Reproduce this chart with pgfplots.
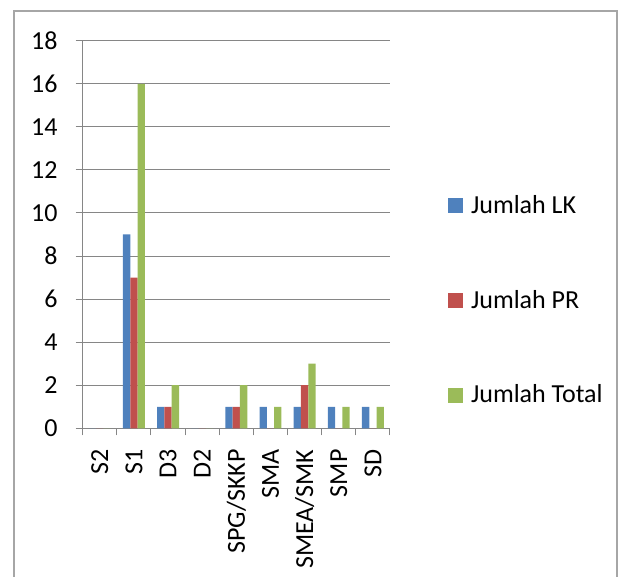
\documentclass[border=0pt]{standalone}
\usepackage{pgfplots}
\pgfplotsset{compat=1.18}
\usepackage{fontspec}
\setmainfont{Carlito}
\definecolor{cLK}{HTML}{4F81BD}
\definecolor{cPR}{HTML}{C0504D}
\definecolor{cTot}{HTML}{9BBB59}
\definecolor{cgrid}{HTML}{868686}
\definecolor{cframe}{HTML}{A6A6A6}
\begin{document}
\begin{tikzpicture}
\useasboundingbox (0pt,0pt) rectangle (618pt,577pt);
\draw[cframe, line width=1.2pt] (14pt,-2pt) -- (14pt,566pt) -- (617pt,566pt) -- (617pt,-2pt);
\begin{axis}[
  at={(82.7pt,148.7pt)}, anchor=south west,
  scale only axis, width=307.3pt, height=387.6pt,
  font=\fontsize{26}{30}\selectfont,
  /pgf/number format/assume math mode=true,
  ybar=0pt, bar width=7.3pt,
  xmin=-0.5, xmax=8.5, ymin=0, ymax=18,
  ytick={0,2,...,18},
  xtick={-0.5,0.5,...,8.5},
  x tick label as interval,
  xticklabels={S2,S1,D3,D2,SPG/SKKP,SMA,SMEA/SMK,SMP,SD},
  x tick label style={rotate=90, anchor=east, inner sep=0pt, xshift=-14pt},
  y tick label style={anchor=east, inner sep=0pt, xshift=-18pt},
  tick align=outside, major tick length=7pt,
  tick style={draw=cgrid, line width=1pt},
  axis x line*=bottom, axis y line*=left,
  axis line style={cgrid, line width=1pt, -},
  ymajorgrids, xmajorgrids=false, grid style={cgrid, line width=1pt},
  legend style={at={(1.189,0.606)}, anchor=north west, draw=none, fill=none,
    inner sep=0pt, outer sep=0pt, row sep=71pt, column sep=6pt,
    cells={inner sep=0pt, anchor=base west}},
  legend image code/.code={\fill[#1, draw=none] (0pt,0pt) rectangle (15pt,15pt);},
]
\addplot[fill=cLK, draw=none] coordinates {(0,0) (1,9) (2,1) (3,0) (4,1) (5,1) (6,1) (7,1) (8,1)};
\addplot[fill=cPR, draw=none] coordinates {(0,0) (1,7) (2,1) (3,0) (4,1) (5,0) (6,2) (7,0) (8,0)};
\addplot[fill=cTot, draw=none] coordinates {(0,0) (1,16) (2,2) (3,0) (4,2) (5,1) (6,3) (7,1) (8,1)};
\legend{Jumlah LK, Jumlah PR, Jumlah Total}
\end{axis}
\end{tikzpicture}
\end{document}
